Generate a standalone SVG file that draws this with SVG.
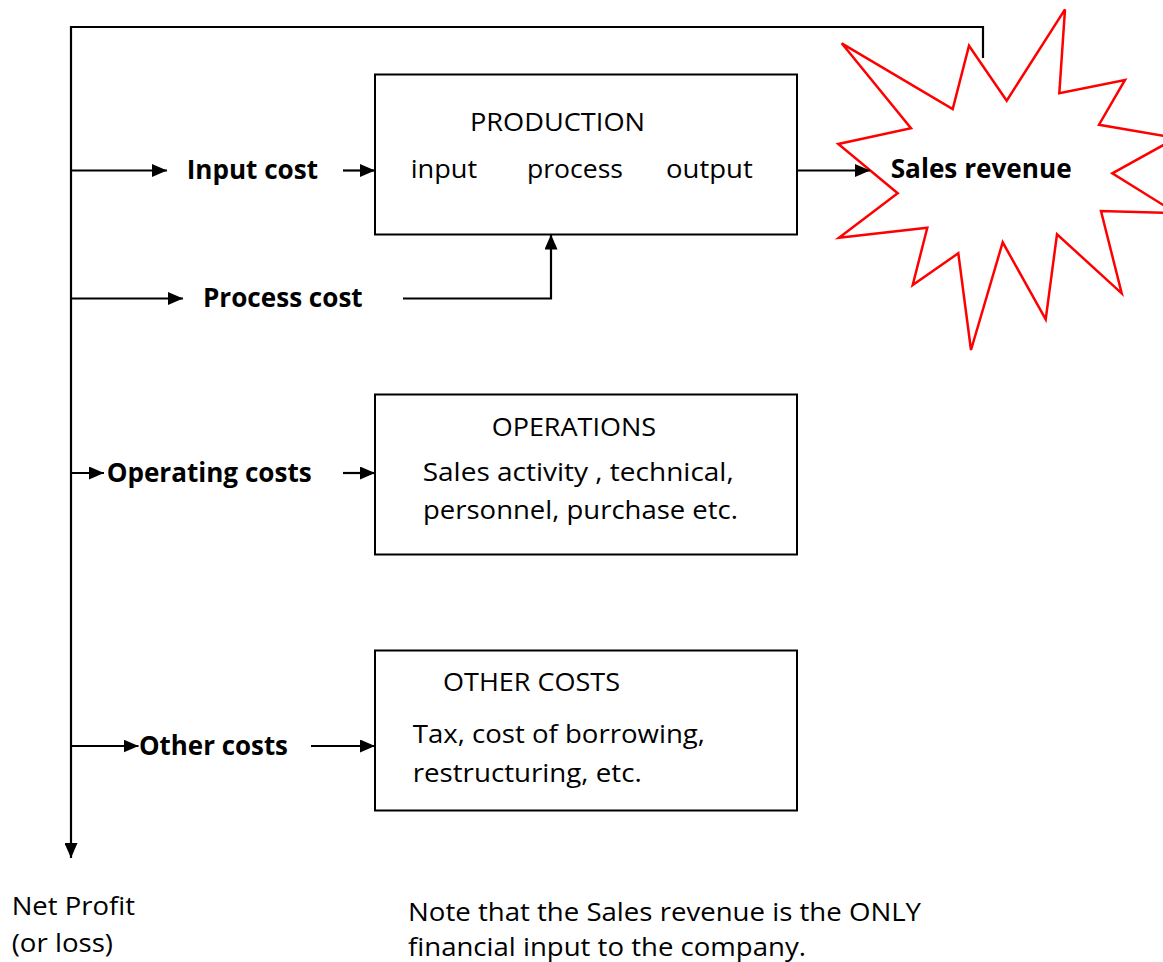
<svg xmlns="http://www.w3.org/2000/svg" width="1163" height="962" viewBox="0 0 1163 962">
  <style>
    .t { font-family: "Open Sans", "Liberation Sans", sans-serif; font-size: 26px; fill: #000; }
    .b { font-family: "Open Sans", "Liberation Sans", sans-serif; font-size: 26px; font-weight: bold; fill: #000; }
    .box { fill: #fff; stroke: #000; stroke-width: 2; }
    .ln { fill: none; stroke: #000; stroke-width: 2.2; }
    .burst { fill: #fff; stroke: #f00; stroke-width: 2.5; stroke-linejoin: miter; }
  </style>
  <defs>
    <marker id="ah" viewBox="0 0 15 13" refX="15" refY="6.5" markerWidth="15" markerHeight="13" orient="auto" markerUnits="userSpaceOnUse">
      <path d="M0,0 L15,6.5 L0,13 z" fill="#000"/>
    </marker>
  </defs>

  <rect width="1163" height="962" fill="#fff"/>

  <!-- revenue starburst -->
  <g id="sales-revenue">
    <polygon class="burst" points="841.7,43.3 952.7,109 969,45.7 1006.7,100.7 1065,9.3 1059.3,93.3 1125,80 1099,124.7 1176,138 1112.3,173.3 1176,213 1101,211 1121.7,293.3 1057,234.3 1045.7,319.3 1002.7,242.3 971,350 958.3,253.3 912.7,285 927.3,227.7 839,237.7 897.7,193.3 838.3,144 911,128.3"/>
    <text class="b" x="890.7" y="178" textLength="181" lengthAdjust="spacingAndGlyphs">Sales revenue</text>
  </g>

  <!-- connectors -->
  <g id="connectors">
    <path class="ln" d="M983,58 V27 H71 V858" marker-end="url(#ah)"/>
    <path class="ln" d="M71,170.5 H167" marker-end="url(#ah)"/>
    <path class="ln" d="M71,298.5 H183" marker-end="url(#ah)"/>
    <path class="ln" d="M71,473 H104" marker-end="url(#ah)"/>
    <path class="ln" d="M71,746 H138.5" marker-end="url(#ah)"/>
    <path class="ln" d="M343,170.5 H375" marker-end="url(#ah)"/>
    <path class="ln" d="M403,298.5 H551 V234.5" marker-end="url(#ah)"/>
    <path class="ln" d="M343,473 H375" marker-end="url(#ah)"/>
    <path class="ln" d="M311,746 H375" marker-end="url(#ah)"/>
    <path class="ln" d="M798,170.5 H870" marker-end="url(#ah)"/>
  </g>

  <!-- cost labels -->
  <g id="input-cost">
    <text class="b" x="186.7" y="179" textLength="131.3" lengthAdjust="spacingAndGlyphs">Input cost</text>
  </g>
  <g id="process-cost">
    <text class="b" x="203" y="306.5" textLength="159.7" lengthAdjust="spacingAndGlyphs">Process cost</text>
  </g>
  <g id="operating-costs">
    <text class="b" x="106.7" y="482" textLength="205" lengthAdjust="spacingAndGlyphs">Operating costs</text>
  </g>
  <g id="other-costs">
    <text class="b" x="139" y="755" textLength="149" lengthAdjust="spacingAndGlyphs">Other costs</text>
  </g>

  <!-- production box -->
  <g id="production">
    <rect class="box" x="375" y="74.5" width="422" height="160"/>
    <text class="t" x="470" y="131" textLength="175" lengthAdjust="spacingAndGlyphs">PRODUCTION</text>
    <text class="t" x="410.7" y="178" textLength="66.5" lengthAdjust="spacingAndGlyphs">input</text>
    <text class="t" x="527" y="178" textLength="96" lengthAdjust="spacingAndGlyphs">process</text>
    <text class="t" x="666" y="178" textLength="86.7" lengthAdjust="spacingAndGlyphs">output</text>
  </g>

  <!-- operations box -->
  <g id="operations">
    <rect class="box" x="375" y="394.5" width="422" height="160"/>
    <text class="t" x="491.7" y="436" textLength="164.3" lengthAdjust="spacingAndGlyphs">OPERATIONS</text>
    <text class="t" x="422.7" y="480.7" textLength="311" lengthAdjust="spacingAndGlyphs">Sales activity , technical,</text>
    <text class="t" x="423" y="518.5" textLength="315" lengthAdjust="spacingAndGlyphs">personnel, purchase etc.</text>
  </g>

  <!-- other costs box -->
  <g id="other-costs-box">
    <rect class="box" x="375" y="650.5" width="422" height="160"/>
    <text class="t" x="443" y="690.7" textLength="177" lengthAdjust="spacingAndGlyphs">OTHER COSTS</text>
    <text class="t" x="412.7" y="743" textLength="292.3" lengthAdjust="spacingAndGlyphs">Tax, cost of borrowing,</text>
    <text class="t" x="412.7" y="781.7" textLength="229" lengthAdjust="spacingAndGlyphs">restructuring, etc.</text>
  </g>

  <!-- result -->
  <g id="net-profit">
    <text class="t" x="11.7" y="915" textLength="123.3" lengthAdjust="spacingAndGlyphs">Net Profit</text>
    <text class="t" x="11.7" y="951.5" textLength="101.3" lengthAdjust="spacingAndGlyphs">(or loss)</text>
  </g>

  <!-- note -->
  <g id="note">
    <text class="t" x="408" y="921" textLength="513" lengthAdjust="spacingAndGlyphs">Note that the Sales revenue is the ONLY</text>
    <text class="t" x="408" y="956" textLength="398" lengthAdjust="spacingAndGlyphs">financial input to the company.</text>
  </g>
</svg>
